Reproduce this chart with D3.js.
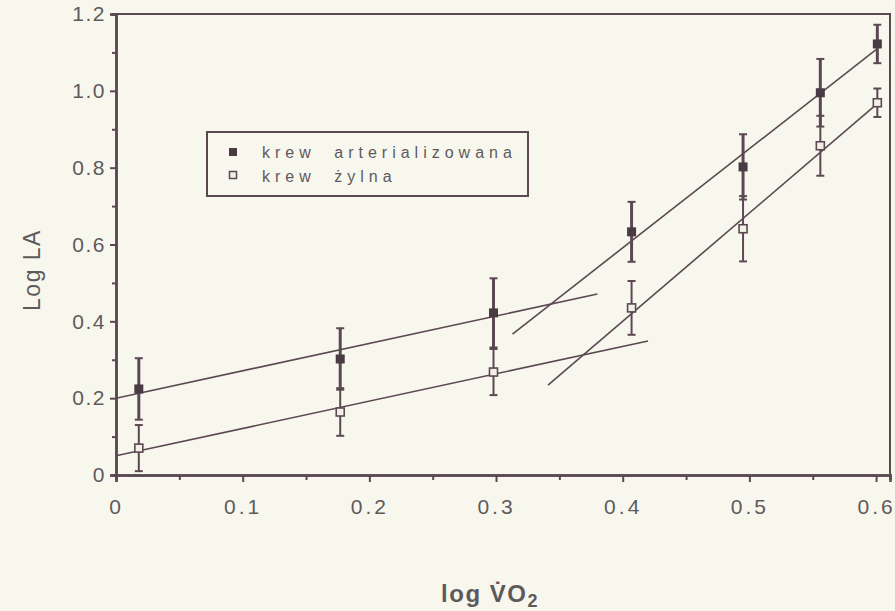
<!DOCTYPE html>
<html>
<head>
<meta charset="utf-8">
<script src="https://cdn.jsdelivr.net/npm/d3@7"></script>
<style>
  body { margin: 0; background: #f8f7ee; }
  svg { display: block; }
  text { font-family: "Liberation Sans", Arial, sans-serif; fill: #5e5a5c; }
</style>
</head>
<body>
<script>
var w = 895;
var h = 611;

// data
var xVals = [0.018, 0.177, 0.298, 0.407, 0.495, 0.556, 0.601];
var arterial = [0.224, 0.302, 0.422, 0.633, 0.802, 0.995, 1.122];
var arterialErr = [0.08, 0.08, 0.09, 0.078, 0.085, 0.088, 0.05];
var venous = [0.070, 0.164, 0.268, 0.435, 0.641, 0.857, 0.969];
var venousErr = [0.06, 0.062, 0.06, 0.07, 0.085, 0.078, 0.037];

// regression segments [x0, y0, x1, y1]
var fitLines = [
  [0.0, 0.200, 0.380, 0.471],
  [0.0, 0.050, 0.420, 0.349],
  [0.313, 0.367, 0.600, 1.107],
  [0.341, 0.234, 0.598, 0.958]
];

var xMajor = [0, 0.1, 0.2, 0.3, 0.4, 0.5, 0.6];
var xMinor = [0.05, 0.15, 0.25, 0.35, 0.45, 0.55];
var yMajor = [0, 0.2, 0.4, 0.6, 0.8, 1.0, 1.2];
var yMinor = [0.1, 0.3, 0.5, 0.7, 0.9, 1.1];
var legendLabels = ["krew arterializowana", "krew \u017cylna"];

var ink = "#5b4853";

var xScale = d3.scaleLinear().domain([0, 0.611]).range([116, 890]);
var yScale = d3.scaleLinear().domain([0, 1.2]).range([475, 14]);

var svg = d3.select("body").append("svg")
  .attr("width", w)
  .attr("height", h);

// frame
svg.append("path")
  .attr("d", "M" + xScale(0) + "," + yScale(1.2) + "H" + xScale(0.611) + "V" + yScale(0))
  .attr("fill", "none")
  .attr("stroke", ink)
  .attr("stroke-width", 2);

// axes
var tf = function(d) { return d === 0 ? "0" : d3.format(".1f")(d); };
var yAxis = svg.append("g")
  .attr("transform", "translate(" + xScale(0) + ",0)")
  .call(d3.axisLeft(yScale).tickValues(yMajor).tickSize(6).tickPadding(4).tickFormat(tf));
svg.append("g")
  .attr("transform", "translate(" + xScale(0) + ",0)")
  .call(d3.axisLeft(yScale).tickValues(yMinor).tickSize(4).tickFormat(""));

var xAxis = svg.append("g")
  .attr("transform", "translate(0," + yScale(0) + ")")
  .call(d3.axisBottom(xScale).tickValues(xMajor).tickSize(7).tickPadding(17).tickFormat(tf));
svg.append("g")
  .attr("transform", "translate(0," + yScale(0) + ")")
  .call(d3.axisBottom(xScale).tickValues(xMinor).tickSize(5).tickFormat(""));

svg.selectAll(".domain").attr("stroke", ink).attr("stroke-width", 2.5);
svg.selectAll(".tick line").attr("stroke", ink).attr("stroke-width", 2);
svg.selectAll(".tick text")
  .attr("font-size", 21)
  .attr("letter-spacing", 1.5)
  .attr("fill", "#5e5a5c")
  .style("font-family", "Liberation Sans, Arial, sans-serif");
xAxis.selectAll(".tick text").attr("letter-spacing", 3);

// regression lines
svg.selectAll("line.fit")
  .data(fitLines)
  .enter()
  .append("line")
  .attr("class", "fit")
  .attr("x1", function(d) { return xScale(d[0]); })
  .attr("y1", function(d) { return yScale(d[1]); })
  .attr("x2", function(d) { return xScale(d[2]); })
  .attr("y2", function(d) { return yScale(d[3]); })
  .attr("stroke", ink)
  .attr("stroke-width", 1.6);

// error bars
function drawErr(vals, errs, width, cls) {
  var g = svg.append("g").attr("class", cls);
  vals.forEach(function(v, i) {
    var x = xScale(xVals[i]);
    var yt = yScale(v + errs[i]);
    var yb = yScale(v - errs[i]);
    g.append("line").attr("x1", x).attr("x2", x).attr("y1", yt).attr("y2", yb)
      .attr("stroke", ink).attr("stroke-width", width);
    [yt, yb].forEach(function(yy) {
      g.append("line").attr("x1", x - 4).attr("x2", x + 4).attr("y1", yy).attr("y2", yy)
        .attr("stroke", ink).attr("stroke-width", 2);
    });
  });
}
drawErr(arterial, arterialErr, 3, "errA");
drawErr(venous, venousErr, 2, "errV");

// markers
svg.selectAll("rect.art")
  .data(arterial)
  .enter()
  .append("rect")
  .attr("class", "art")
  .attr("x", function(d, i) { return xScale(xVals[i]) - 4.5; })
  .attr("y", function(d) { return yScale(d) - 4.5; })
  .attr("width", 9)
  .attr("height", 9)
  .attr("fill", "#4a3a44");

svg.selectAll("rect.ven")
  .data(venous)
  .enter()
  .append("rect")
  .attr("class", "ven")
  .attr("x", function(d, i) { return xScale(xVals[i]) - 4; })
  .attr("y", function(d) { return yScale(d) - 4; })
  .attr("width", 8)
  .attr("height", 8)
  .attr("fill", "#f3f1e6")
  .attr("stroke", ink)
  .attr("stroke-width", 1.6);

// legend
var legend = svg.append("g");
legend.append("rect")
  .attr("x", 207).attr("y", 132)
  .attr("width", 321).attr("height", 64)
  .attr("fill", "none")
  .attr("stroke", ink)
  .attr("stroke-width", 2);
legend.append("rect")
  .attr("x", 229).attr("y", 148).attr("width", 8).attr("height", 8)
  .attr("fill", "#4a3a44");
legend.append("rect")
  .attr("x", 229.5).attr("y", 171.5).attr("width", 7).attr("height", 7)
  .attr("fill", "#f3f1e6").attr("stroke", ink).attr("stroke-width", 1.5);
legend.selectAll("text")
  .data(legendLabels)
  .enter()
  .append("text")
  .attr("x", 262)
  .attr("y", function(d, i) { return 158 + i * 24; })
  .attr("font-size", 16)
  .attr("letter-spacing", 5)
  .attr("word-spacing", 9)
  .text(function(d) { return d; });

// axis titles
svg.append("text")
  .attr("transform", "translate(40," + 270 + ") rotate(-90)")
  .attr("text-anchor", "middle")
  .attr("font-size", 23)
  .attr("letter-spacing", 1.5)
  .text("Log LA");

var xt = svg.append("text")
  .attr("x", 490)
  .attr("y", 602)
  .attr("text-anchor", "middle")
  .attr("font-size", 24)
  .attr("font-weight", "bold")
  .attr("letter-spacing", 1.5);
xt.append("tspan").text("log  V\u0307O");
xt.append("tspan").attr("dy", 5).attr("font-size", 18).text("2");
</script>
</body>
</html>
